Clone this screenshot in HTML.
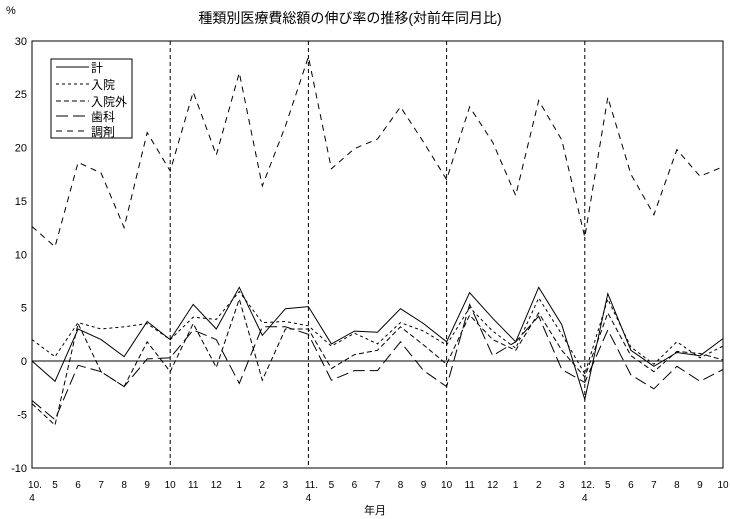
<!DOCTYPE html>
<html><head><meta charset="utf-8"><style>
body{margin:0;background:#fff;}
svg{display:block;font-family:"Liberation Sans","Noto Sans CJK JP",sans-serif;}
</style></head><body>
<svg id="s" width="730" height="519" xmlns="http://www.w3.org/2000/svg">
<text x="350" y="23" font-size="14" text-anchor="middle">種類別医療費総額の伸び率の推移(対前年同月比)</text>
<text x="6" y="14" font-size="11">%</text>
<rect x="32" y="41" width="691" height="427" fill="none" stroke="#000" stroke-width="1"/>
<line x1="32" y1="361" x2="723" y2="361" stroke="#000"/>
<g id="g"></g>
<rect x="51" y="59" width="81" height="79" fill="#fff" stroke="#000"/>
<g font-size="12" stroke="#000">
<line x1="56" y1="67" x2="89" y2="67"/>
<line x1="56" y1="84" x2="89" y2="84" stroke-dasharray="3,3"/>
<line x1="56" y1="101" x2="89" y2="101" stroke-dasharray="5,3"/>
<line x1="56" y1="116" x2="89" y2="116" stroke-dasharray="12,5"/>
<line x1="56" y1="131" x2="89" y2="131" stroke-dasharray="6,5"/>
</g>
<g font-size="12">
<text x="91" y="72">計</text><text x="91" y="89">入院</text><text x="91" y="106">入院外</text><text x="91" y="121">歯科</text><text x="91" y="136">調剤</text>
</g>
<text x="375" y="514" font-size="11" text-anchor="middle">年月</text>
</svg>
<script>
var g=document.getElementById('g'),NS='http://www.w3.org/2000/svg';
function X(i){return 32+i*691/30}function Y(v){return 361-v*10.675}
function el(t,a,txt){var e=document.createElementNS(NS,t);for(var k in a)e.setAttribute(k,a[k]);if(txt!=null)e.textContent=txt;g.appendChild(e);return e}
for(var v=-10;v<=30;v+=5)el('text',{x:27,y:Y(v)+4,'font-size':11,'text-anchor':'end'},String(v));
[6,12,18,24].forEach(function(i){el('line',{x1:X(i),y1:41,x2:X(i),y2:468,stroke:'#000','stroke-dasharray':'4,3'})});
var lab=['10.','5','6','7','8','9','10','11','12','1','2','3','11.','5','6','7','8','9','10','11','12','1','2','3','12.','5','6','7','8','9','10'];
lab.forEach(function(l,i){el('text',{x:X(i)+(l.indexOf('.')>0?3:0),y:488,'font-size':10,'text-anchor':'middle'},l)});
[0,12,24].forEach(function(i){el('text',{x:X(i),y:501,'font-size':10,'text-anchor':'middle'},'4')});
var S=[
[[0,-1.9,3.0,2.0,0.4,3.7,2.0,5.3,3.0,6.9,2.4,4.9,5.1,1.6,2.8,2.7,4.9,3.5,1.8,6.4,4.0,1.8,6.9,3.4,-3.6,6.3,1.0,-0.5,0.8,0.5,2.1],'none'],
[[2.0,0.4,3.6,3.0,3.2,3.5,2.0,4.1,3.9,6.5,3.6,3.7,3.3,1.4,2.6,1.6,3.6,2.8,1.5,5.0,2.8,1.2,5.9,2.5,-1.2,5.8,1.3,-0.3,1.8,0.3,1.4],'3,3'],
[[-4.0,-6.0,3.5,-1.0,-2.4,1.8,-1.0,3.5,-0.6,5.8,-1.8,3.0,3.0,-0.7,0.6,1.0,3.2,1.5,-0.3,4.3,2.0,1.0,4.5,1.0,-1.5,4.5,0.5,-1.0,0.9,0.7,0.1],'5,3'],
[[-3.7,-5.5,-0.4,-1.0,-2.4,0.2,0.3,2.9,2.0,-2.1,3.2,3.2,2.5,-1.8,-0.9,-0.9,1.8,-0.9,-2.4,5.3,0.5,1.8,4.2,-0.8,-2.0,2.9,-1.3,-2.6,-0.5,-1.9,-0.8],'12,5'],
[[12.6,10.7,18.6,17.6,12.5,21.4,17.8,25.2,19.3,27.0,16.4,22,28.5,18.0,19.9,20.8,23.8,20.5,17.0,23.8,20.5,15.5,24.4,20.7,11.6,24.7,17.5,13.7,19.8,17.3,18.2],'6,5']];
S.forEach(function(s){el('polyline',{points:s[0].map(function(v,i){return X(i).toFixed(1)+','+Y(v).toFixed(1)}).join(' '),fill:'none',stroke:'#000','stroke-width':1,'stroke-dasharray':s[1]})});
</script>
</body></html>
